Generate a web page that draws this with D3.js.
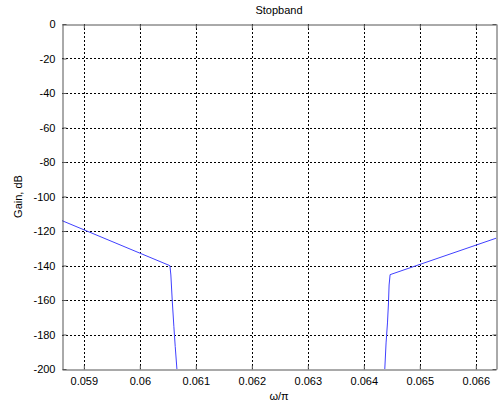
<!DOCTYPE html>
<html><head><meta charset="utf-8">
<script src="https://cdn.jsdelivr.net/npm/d3@7"></script>
<style>body{margin:0;background:#fff}svg{display:block}text{font-family:"Liberation Sans",Arial,sans-serif;font-size:11px;fill:#000}</style>
</head><body><svg id="c" width="501" height="410"></svg>
<script>
const xTicks = [0.059,0.060,0.061,0.062,0.063,0.064,0.065,0.066];
const xTickLabels = ["0.059","0.06","0.061","0.062","0.063","0.064","0.065","0.066"];
const yTicks = [0,-20,-40,-60,-80,-100,-120,-140,-160,-180,-200];
const leftFreq = [0.05861,0.060537,0.060554,0.060578,0.060608,0.060632,0.060662,0.06068];
const leftGain = [-114.0,-140.1,-145.5,-160,-175.5,-187,-200,-210];
const rightFreq = [0.06436,0.064374,0.064397,0.064422,0.064440,0.064451,0.064469,0.06636];
const rightGain = [-210,-200,-184.9,-173.3,-161.7,-151.3,-145.3,-124.2];

const svg = d3.select("#c");
const m = {l:62, r:496, t:24, b:369};
const x = d3.scaleLinear().domain([0.05861,0.06636]).range([m.l,m.r]);
const y = d3.scaleLinear().domain([-200,0]).range([m.b,m.t]);

svg.append("defs").append("clipPath").attr("id","clip").append("rect")
  .attr("x",m.l).attr("y",m.t).attr("width",m.r-m.l).attr("height",m.b-m.t);

// grid
const g = svg.append("g");
g.selectAll(".gx").data(xTicks).enter().append("line")
  .attr("x1",d=>Math.round(x(d))+0.5).attr("x2",d=>Math.round(x(d))+0.5)
  .attr("y1",m.t).attr("y2",m.b).attr("stroke","#000").attr("stroke-dasharray","2,2").attr("stroke-width",1);
g.selectAll(".gy").data(yTicks.slice(1,-1)).enter().append("line")
  .attr("y1",d=>Math.round(y(d))+0.5).attr("y2",d=>Math.round(y(d))+0.5)
  .attr("x1",m.l).attr("x2",m.r).attr("stroke","#000").attr("stroke-dasharray","2,2").attr("stroke-width",1);

// lines
const line = d3.line().x(d=>x(d[0])).y(d=>y(d[1]));
const pl = svg.append("g").attr("clip-path","url(#clip)");
pl.append("path").datum(leftFreq.map((f,i)=>[f,leftGain[i]])).attr("d",line)
  .attr("fill","none").attr("stroke","#4040ff").attr("stroke-width",1);
pl.append("path").datum(rightFreq.map((f,i)=>[f,rightGain[i]])).attr("d",line)
  .attr("fill","none").attr("stroke","#4040ff").attr("stroke-width",1);

// axes
const ax = svg.append("g").attr("transform",`translate(0,${m.b+0.5})`)
  .call(d3.axisBottom(x).tickValues(xTicks).tickFormat((d,i)=>xTickLabels[i]).tickSizeInner(-4).tickSizeOuter(0).tickPadding(8));
const ay = svg.append("g").attr("transform",`translate(${m.l+0.5},0)`)
  .call(d3.axisLeft(y).tickValues(yTicks).tickFormat(d=>d).tickSizeInner(-4).tickSizeOuter(0).tickPadding(7));
const axT = svg.append("g").attr("transform",`translate(0,${m.t+0.5})`)
  .call(d3.axisTop(x).tickValues(xTicks).tickFormat("").tickSizeInner(-4).tickSizeOuter(0));
const ayR = svg.append("g").attr("transform",`translate(${m.r+0.5},0)`)
  .call(d3.axisRight(y).tickValues(yTicks).tickFormat("").tickSizeInner(-4).tickSizeOuter(0));
[ax,ay,axT,ayR].forEach(a=>{
  a.selectAll("path").attr("stroke","#555");
  a.selectAll("line").attr("stroke","#555");
  a.selectAll("text").style("font-family",'"Liberation Sans",Arial,sans-serif').style("font-size","11px").attr("fill","#000");
});

svg.append("text").attr("x",(m.l+m.r)/2).attr("y",14).attr("text-anchor","middle").text("Stopband");
svg.append("text").attr("x",(m.l+m.r)/2).attr("y",400).attr("text-anchor","middle").text("ω/π");
svg.append("text").attr("transform",`translate(22,${(m.t+m.b)/2}) rotate(-90)`).attr("text-anchor","middle").text("Gain, dB");
</script></body></html>
